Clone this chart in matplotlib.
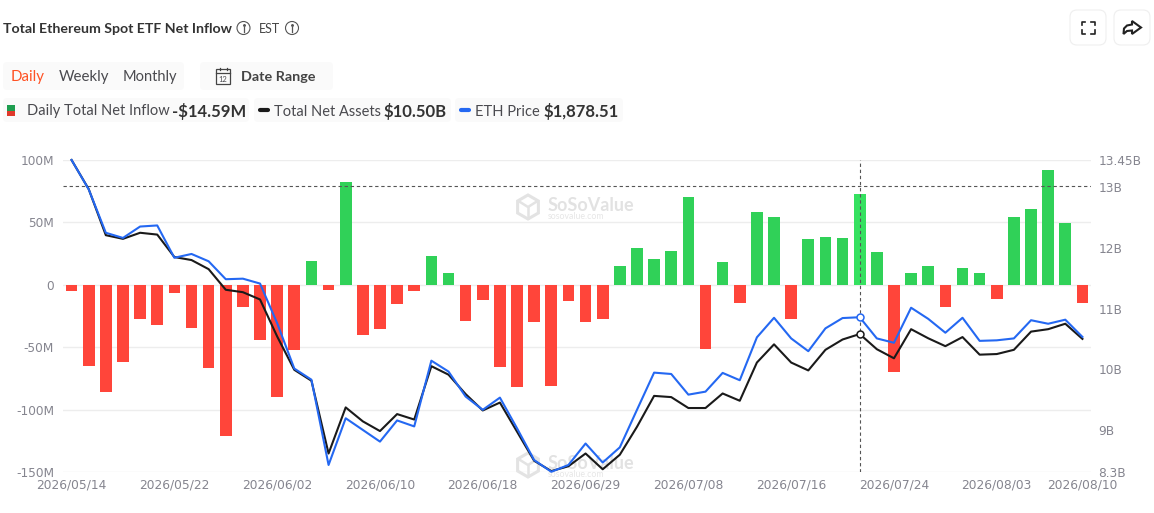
import matplotlib
matplotlib.use("Agg")
import matplotlib.pyplot as plt
from matplotlib.patches import FancyBboxPatch, RegularPolygon, Rectangle, Circle

W, H = 1154, 513

tick_index = [0, 6, 12, 18, 24, 30, 36, 42, 48, 54, 59]
tick_labels = ["2026/05/14", "2026/05/22", "2026/06/02", "2026/06/10", "2026/06/18", "2026/06/29",
               "2026/07/08", "2026/07/16", "2026/07/24", "2026/08/03", "2026/08/10"]

net_inflow = [-4.8, -65, -85.4, -61.4, -27.2, -31.8, -6.1, -34.4, -66.5, -120.6,
              -17.3, -43.8, -89.4, -52.3, 19.5, -4.3, 82.5, -40, -35, -15.2,
              -4.5, 23, 9.9, -28.8, -12.3, -65.4, -81.7, -29.4, -81.1, -12.5,
              -29.4, -27.2, 15.2, 29.4, 20.8, 27.2, 70.7, -51.5, 18.7, -14.7,
              58.7, 54.2, -27.5, 36.8, 38.4, 37.6, 72.9, 26.7, -69.9, 9.6,
              14.9, -17.9, 13.6, 9.3, -10.9, 54.2, 61.1, 92.3, 49.9, -14.59]

net_assets = [13.45, 12.97, 12.21, 12.15, 12.25, 12.22, 11.85, 11.80, 11.65, 11.31,
              11.27, 11.15, 10.54, 9.99, 9.81, 8.61, 9.37, 9.14, 8.98, 9.26,
              9.17, 10.05, 9.91, 9.59, 9.32, 9.45, 8.97, 8.49, 8.32, 8.40,
              8.61, 8.35, 8.59, 9.05, 9.56, 9.54, 9.36, 9.36, 9.60, 9.48,
              10.11, 10.41, 10.11, 9.98, 10.32, 10.49, 10.58, 10.33, 10.18, 10.66,
              10.51, 10.38, 10.53, 10.24, 10.25, 10.32, 10.62, 10.66, 10.75, 10.50]

eth_price = [2530, 2422, 2262, 2243, 2285, 2289, 2170, 2184, 2157, 2091,
             2093, 2075, 1929, 1762, 1721, 1407, 1579, 1536, 1493, 1571,
             1549, 1791, 1751, 1659, 1610, 1655, 1542, 1425, 1382, 1407,
             1486, 1416, 1472, 1610, 1747, 1742, 1666, 1677, 1746, 1719,
             1877, 1949, 1873, 1826, 1910, 1948, 1951, 1873, 1857, 1986,
             1945, 1894, 1949, 1864, 1866, 1873, 1940, 1927, 1942, 1878.51]

left_ticks = [100, 50, 0, -50, -100, -150]
left_labels = ["100M", "50M", "0", "-50M", "-100M", "-150M"]
right_ticks = [13.45, 13, 12, 11, 10, 9, 8.3]
right_labels = ["13.45B", "13B", "12B", "11B", "10B", "9B", "8.3B"]
hover_index = 46

RED, GREEN, HOVER_GREEN = "#FF453A", "#30D158", "#35E160"
BLUE, BLACK = "#2468F2", "#1A1A1A"
GREY, DARK = "#85858F", "#4A4A4F"

fig = plt.figure(figsize=(W / 100, H / 100), dpi=100, facecolor="white")

# pixel-space overlay for page furniture
bg = fig.add_axes([0, 0, 1, 1], zorder=0)
bg.set_xlim(0, W)
bg.set_ylim(H, 0)
bg.axis("off")


def box(x0, y0, x1, y1, fc="#FAFAFA", ec="none", r=4):
    bg.add_patch(FancyBboxPatch((x0 + r, y0 + r), x1 - x0 - 2 * r, y1 - y0 - 2 * r,
                                boxstyle=f"round,pad={r},rounding_size={r}", fc=fc, ec=ec, lw=0.8))


def label(x, y, s, size, color=DARK, weight="normal", ha="left", family="Lato"):
    bg.text(x, y, s, fontsize=size * 0.72, color=color, fontweight=weight, ha=ha, va="center_baseline",
            family=family)


def info(x, y, r=6.5):
    bg.add_patch(Circle((x, y), r, fc="none", ec="#555555", lw=0.8))
    bg.plot([x, x], [y - 1, y + 3.5], color="#555555", lw=0.9)
    bg.plot([x], [y - 3], marker="o", ms=1.1, color="#555555")


def watermark(cy):
    bg.add_patch(RegularPolygon((528, cy), 6, radius=12, fc="none", ec="#E3E3E3", lw=2.2))
    bg.plot([520, 528, 536], [cy - 5, cy, cy - 5], color="#E3E3E3", lw=1.8)
    bg.plot([528, 528], [cy, cy + 11], color="#E3E3E3", lw=1.8)
    label(548, cy - 3, "SoSoValue", 18, color="#E2E2E2", weight="bold")
    label(548, cy + 8.5, "sosovalue.com", 8.8, color="#E6E6E6")


# title row
label(3, 28, "Total Ethereum Spot ETF Net Inflow", 14.1, color="#333333", weight="bold")
info(243.5, 28)
label(259, 28, "EST", 12.5, color="#444444")
info(292, 28)

# period selector
box(3, 62, 184, 90)
label(11, 76, "Daily", 15, color="#FF5224")
label(59, 76, "Weekly", 15)
label(123, 76, "Monthly", 14.6)
box(200, 62, 333, 90)
bg.add_patch(Rectangle((216, 69), 14, 14.5, fc="none", ec="#444444", lw=0.9))
bg.plot([216, 230], [72.5, 72.5], color="#444444", lw=0.9)
bg.plot([219.5, 219.5], [67.5, 70], color="#444444", lw=0.9)
bg.plot([226.5, 226.5], [67.5, 70], color="#444444", lw=0.9)
label(223, 78.5, "12", 7.5, ha="center")
label(241, 76, "Date Range", 14.4, color="#444444", weight="bold")

# legend row
box(3, 98, 249, 122)
box(254, 98, 451, 122)
box(455, 98, 623, 122)
bg.add_patch(Rectangle((7, 105), 8, 5.5, fc="#1E9E50", ec="none"))
bg.add_patch(Rectangle((7, 110.5), 8, 5.5, fc="#E0392B", ec="none"))
label(27, 110, "Daily Total Net Inflow", 14.6)
label(172, 110, "-$14.59M", 16.6, color="#333333", weight="bold")
bg.plot([260, 268], [110, 110], color=BLACK, lw=3, solid_capstyle="round")
label(274, 110, "Total Net Assets", 14.6)
label(384, 110, "$10.50B", 16.6, color="#333333", weight="bold")
bg.plot([461, 469], [110, 110], color=BLUE, lw=3, solid_capstyle="round")
label(475, 110, "ETH Price", 14.6)
label(544, 110, "$1,878.51", 16.6, color="#333333", weight="bold")

# action buttons
box(1070, 10, 1106, 45, fc="white", ec="#EFEFEF", r=7)
box(1114, 10, 1150, 45, fc="white", ec="#EFEFEF", r=7)
for sx, sy in [(1, 1), (-1, 1), (1, -1), (-1, -1)]:
    cx, cy = 1088 - sx * 6.5, 27.5 - sy * 6
    bg.plot([cx + sx * 3.5, cx, cx], [cy, cy, cy + sy * 3.5], color="#222222", lw=1.2)
bg.fill([1141, 1132, 1132, 1127, 1124, 1123.5, 1127, 1132, 1132],
        [27.5, 21, 24.5, 25.5, 28.5, 34, 31, 30.5, 34], fc="white", ec="#222222", lw=1.5)

watermark(207)
watermark(465)

# plot axes
L, R, T, B = 63, 1091, 160, 472.3
rect = [L / W, 1 - B / H, (R - L) / W, (B - T) / H]
ax = fig.add_axes(rect, zorder=1)
ax.patch.set_visible(False)
xs = list(range(len(net_inflow)))
colors = [(HOVER_GREEN if i == hover_index else GREEN) if v >= 0 else RED for i, v in enumerate(net_inflow)]
ax.set_axisbelow(True)
ax.grid(axis="y", color="#EDEDED", lw=1)
ax.bar(xs, net_inflow, width=0.68, color=colors, zorder=2)
ax.set_xlim(-0.5, len(xs) - 0.5)
ax.set_ylim(-150, 100)
ax.set_yticks(left_ticks, left_labels)
ax.set_xticks(tick_index, tick_labels)
ax.tick_params(axis="y", length=0, pad=6.5, labelsize=8.7, labelcolor=GREY)
ax.tick_params(axis="x", length=0, pad=4.8, labelsize=8.8, labelcolor=GREY)
for s in ax.spines.values():
    s.set_visible(False)
ax.axvline(hover_index, color="#555555", lw=0.8, dashes=(3, 2.5), zorder=5)

ax2 = ax.twinx()
ax2.set_ylim(8.3, 13.45)
ax2.set_yticks(right_ticks, right_labels)
ax2.tick_params(axis="y", length=0, pad=5.4, labelsize=8.7, labelcolor=GREY)
for s in ax2.spines.values():
    s.set_visible(False)
ax2.plot(xs, net_assets, color=BLACK, lw=1.5, zorder=3, clip_on=False)
ax2.axhline(13.02, color="#555555", lw=0.8, dashes=(3, 2.5), zorder=1)
ax2.plot([hover_index], [net_assets[hover_index]], "o", ms=5, mfc="white", mec=BLACK, mew=1.1, zorder=6)

ax3 = ax.twinx()
ax3.set_ylim(1380, 2530)
ax3.axis("off")
ax3.plot(xs, eth_price, color=BLUE, lw=1.5, zorder=3, clip_on=False)
ax3.plot([hover_index], [eth_price[hover_index]], "o", ms=5, mfc="white", mec=BLUE, mew=1.1, zorder=6)

fig.savefig("out.png", dpi=100, facecolor="white")
